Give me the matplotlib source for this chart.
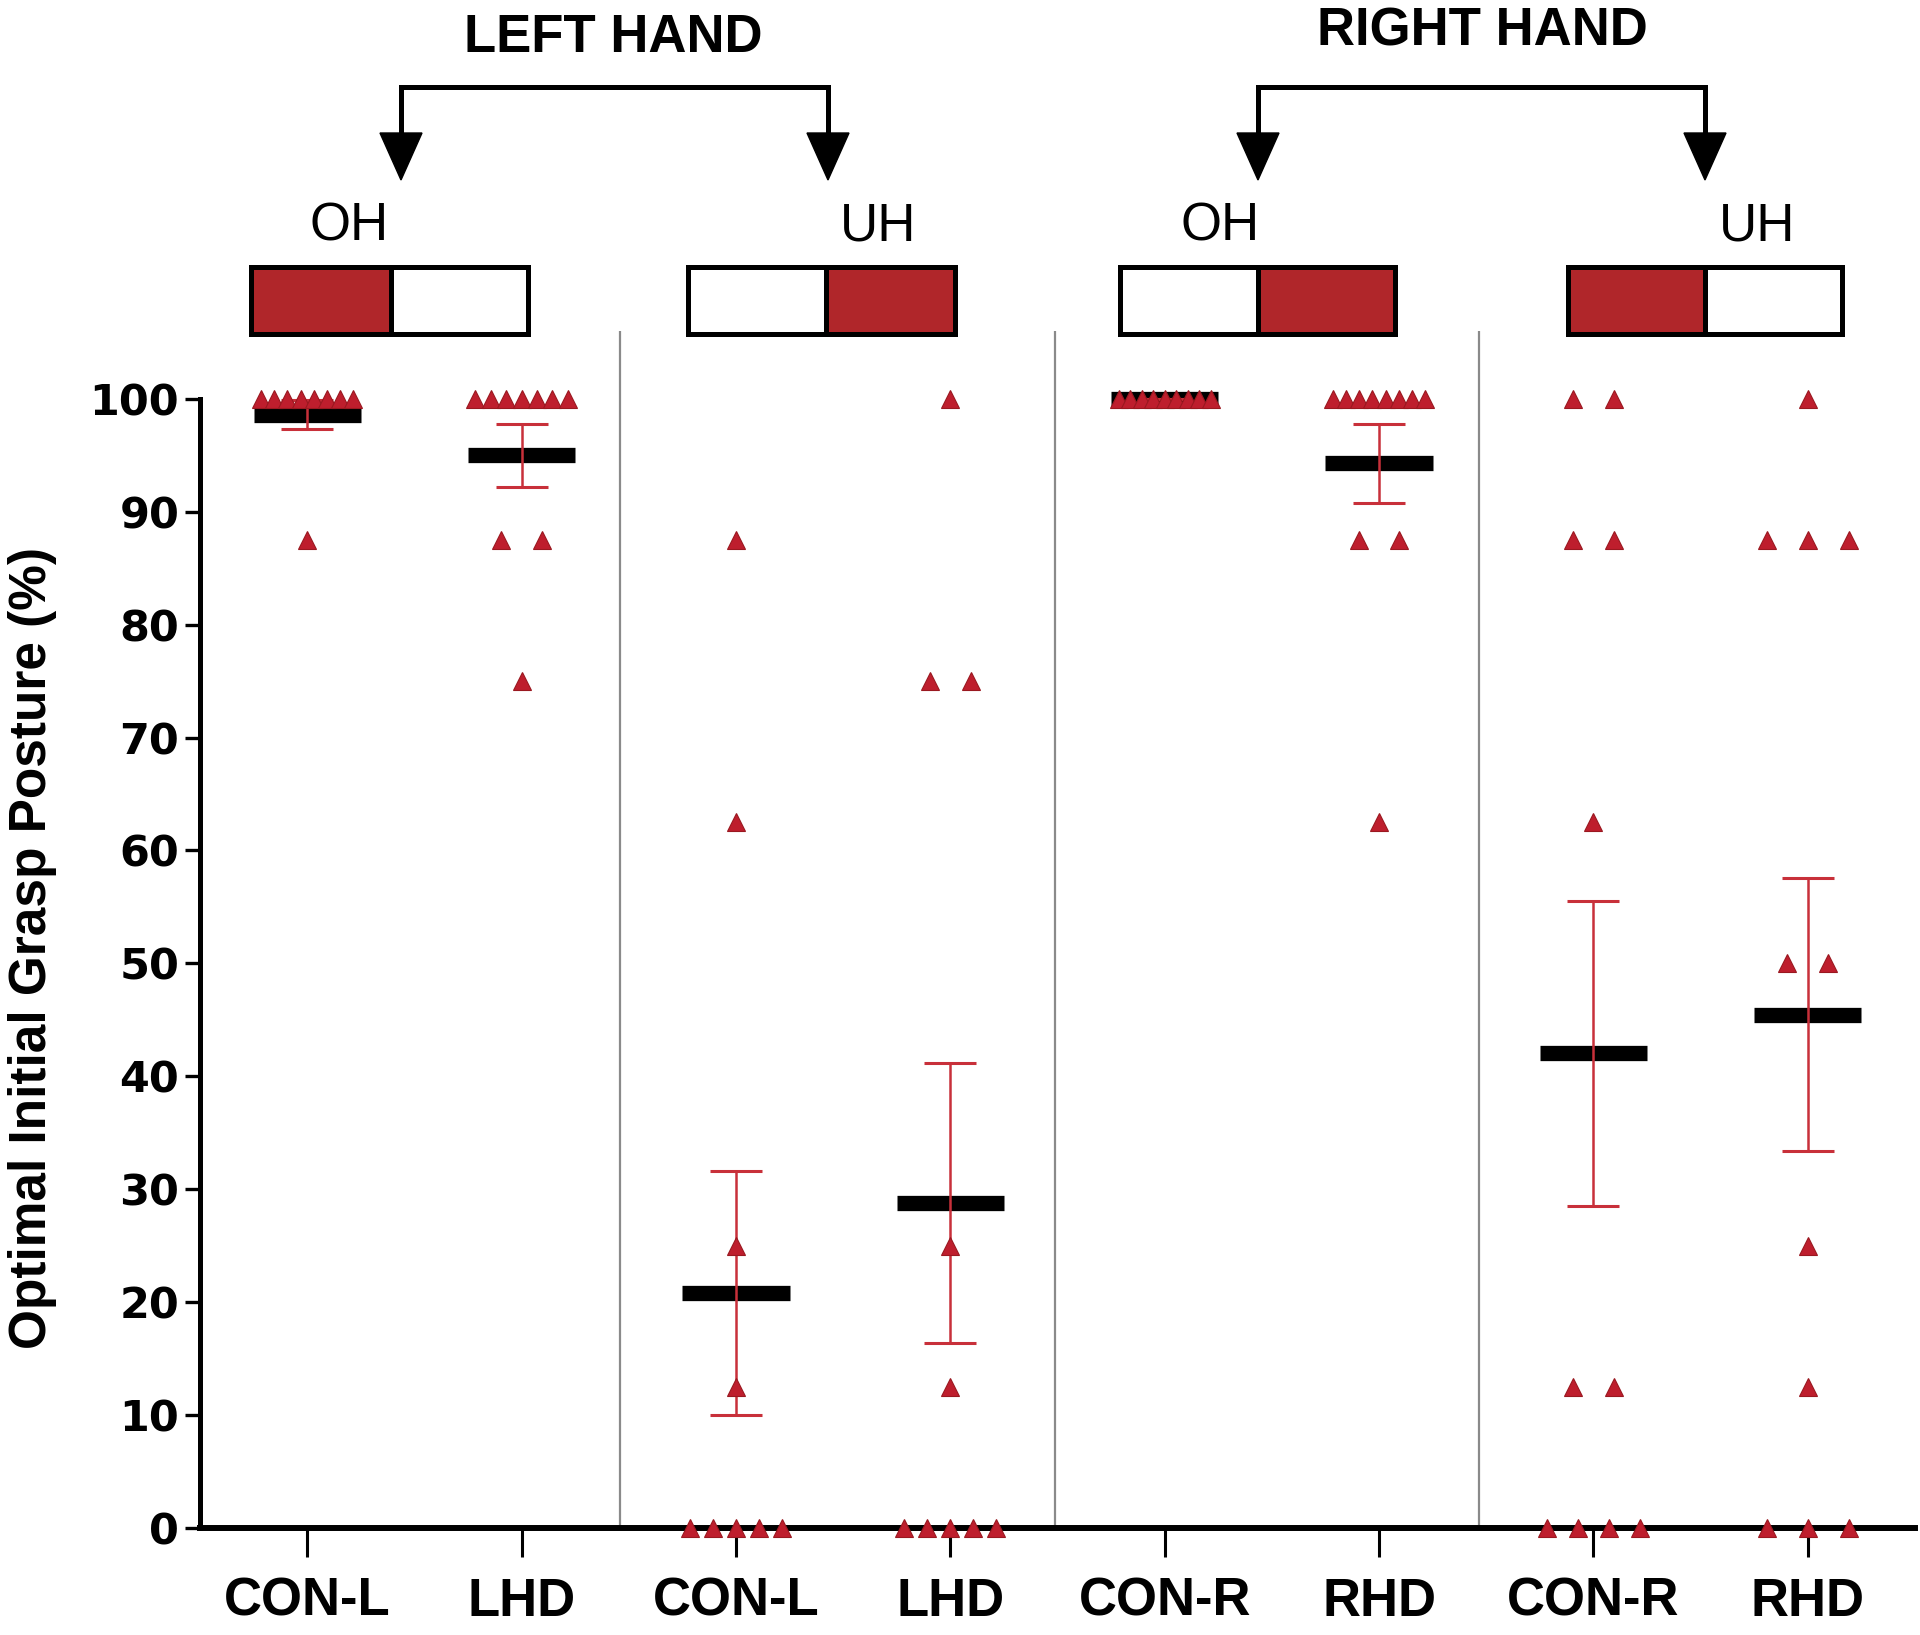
import numpy as np
import matplotlib
matplotlib.use('Agg')
import matplotlib.pyplot as plt
from matplotlib.patches import Rectangle, Polygon
from matplotlib.lines import Line2D

# ---------------- data ----------------
categories = ['CON-L', 'LHD', 'CON-L', 'LHD', 'CON-R', 'RHD', 'CON-R', 'RHD']
y_ticks = [0, 10, 20, 30, 40, 50, 60, 70, 80, 90, 100]

con_l_oh = [100, 100, 100, 100, 100, 100, 100, 100, 87.5]
lhd_oh = [100, 100, 100, 100, 100, 100, 100, 87.5, 87.5, 75]
con_l_uh = [87.5, 62.5, 25, 12.5, 0, 0, 0, 0, 0]
lhd_uh = [100, 75, 75, 25, 12.5, 0, 0, 0, 0, 0]
con_r_oh = [100, 100, 100, 100, 100, 100, 100, 100, 100]
rhd_oh = [100, 100, 100, 100, 100, 100, 100, 100, 87.5, 87.5, 62.5]
con_r_uh = [100, 100, 87.5, 87.5, 62.5, 12.5, 12.5, 0, 0, 0, 0]
rhd_uh = [100, 87.5, 87.5, 87.5, 50, 50, 25, 12.5, 0, 0, 0]
groups = [con_l_oh, lhd_oh, con_l_uh, lhd_uh, con_r_oh, rhd_oh, con_r_uh, rhd_uh]

means = [98.6, 95.0, 20.8, 28.75, 100.0, 94.3, 42.05, 45.45]
sems = [1.3, 2.8, 10.8, 12.4, 0.0, 3.5, 13.5, 12.1]

separators = [1.46, 3.49, 5.465]

header_titles = ['LEFT HAND', 'RIGHT HAND']
header_sub = ['OH', 'UH', 'OH', 'UH']

# ---------------- style ----------------
RED = '#BE1E2D'
BOXRED = '#B0262A'
plt.rcParams['font.family'] = ['Liberation Sans', 'DejaVu Sans']

W, H = 1920, 1635
fig = plt.figure(figsize=(W / 100, H / 100), dpi=100)

ax = fig.add_axes([200 / W, 1 - 1528 / H, 1715 / W, (1528 - 331) / H])
ax.set_facecolor('none')
ax.set_xlim(-0.5, 7.5)
ax.set_ylim(0, 106)

# separators
ax.vlines(separators, 0, 106, colors='#8a8a8a', lw=1.6, zorder=1)

# means
for i, m in enumerate(means):
    ax.hlines(m, i - 0.25, i + 0.25, colors='black', lw=11, zorder=2)

# error bars
ax.errorbar(range(len(means)), means, yerr=sems, fmt='none', ecolor='#C8303A',
            elinewidth=1.8, capsize=19, capthick=2.2, zorder=3)

# points
for i, g in enumerate(groups):
    vals = np.array(g, dtype=float)
    xs = np.zeros_like(vals)
    for v in np.unique(vals):
        idx = np.where(vals == v)[0]
        n = len(idx)
        if n > 1:
            sp = min(0.19, 0.43 / (n - 1))
            xs[idx] = (np.arange(n) - (n - 1) / 2) * sp
    ax.plot(i + xs, vals, linestyle='none', marker='^', ms=13, color=RED,
            mec='#9a1820', mew=0.8, zorder=4, clip_on=False)

# axes styling
for s in ['top', 'right']:
    ax.spines[s].set_visible(False)
ax.spines['left'].set_bounds(0, 100)
ax.spines['left'].set_linewidth(3.6)
ax.spines['bottom'].set_linewidth(4.3)
ax.set_yticks(y_ticks)
ax.set_yticklabels([str(t) for t in y_ticks], fontfamily='DejaVu Sans',
                   fontweight='bold', fontsize=31)
ax.set_xticks(range(len(categories)))
ax.set_xticklabels(categories, fontweight='bold', fontsize=38)
ax.tick_params(axis='x', length=21, width=2.2, pad=14)
ax.tick_params(axis='y', length=11, width=2.4, pad=4)
ax.set_ylabel('Optimal Initial Grasp Posture (%)', fontsize=37, fontweight='bold',
              rotation=90, va='center', ha='center')
ax.yaxis.set_label_coords(-0.0974, 0.4845)

# ---------------- header overlay ----------------
ov = fig.add_axes([0, 0, 1, 1], zorder=-1)
ov.set_xlim(0, W)
ov.set_ylim(H, 0)
ov.set_axis_off()
ov.patch.set_alpha(0)

# titles
ov.text(613, 38, header_titles[0], ha='center', va='center', fontsize=38, fontweight='bold')
ov.text(1482, 31, header_titles[1], ha='center', va='center', fontsize=38, fontweight='bold')

# brackets with arrows
def bracket(x1, x2, yh, ytop_head, ytip, hw=21):
    ov.add_line(Line2D([x1, x1, x2, x2], [ytop_head + 2, yh, yh, ytop_head + 2],
                       color='black', lw=3.6, solid_joinstyle='miter'))
    for x in (x1, x2):
        ov.add_patch(Polygon([[x - hw, ytop_head], [x + hw, ytop_head], [x, ytip]],
                             closed=True, color='black'))

bracket(401, 828, 87, 133, 180)
bracket(1258, 1705, 87, 133, 180)

# sub labels
for x, t in zip([349, 878, 1220, 1757], header_sub):
    ov.text(x, 226, t, ha='center', va='center', fontsize=38)

# boxes: (left, divider, right, red on left?)
boxes = [(251, 391, 528, True), (688, 826, 955, False),
         (1120, 1258, 1395, False), (1568, 1705, 1842, True)]
for l, d, r, red_left in boxes:
    y0, y1 = 267, 334
    ov.add_patch(Rectangle((l, y0), d - l, y1 - y0, facecolor=BOXRED if red_left else 'white',
                           edgecolor='black', lw=3.6))
    ov.add_patch(Rectangle((d, y0), r - d, y1 - y0, facecolor='white' if red_left else BOXRED,
                           edgecolor='black', lw=3.6))

fig.savefig('out.png', dpi=100)
